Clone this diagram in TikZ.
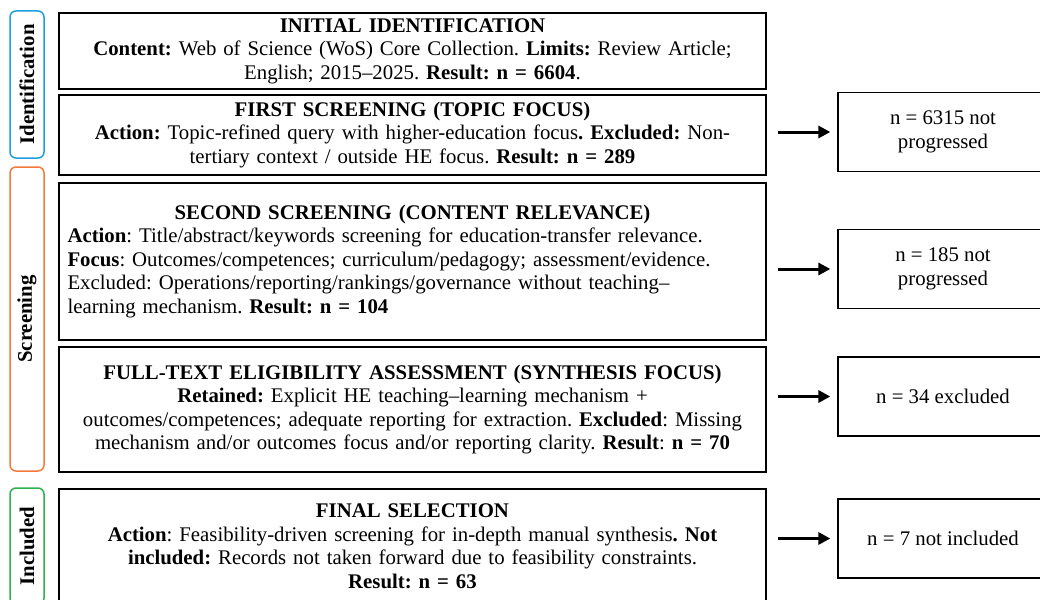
\documentclass[tikz,border=0pt]{standalone}
\usepackage{fontspec}
\setmainfont{Liberation Serif}
\usepackage{xcolor}
\usepackage{tikz}
\usetikzlibrary{arrows.meta,calc}
\definecolor{phaseblue}{RGB}{30,158,222}
\definecolor{phaseorange}{RGB}{245,121,58}
\definecolor{phasegreen}{RGB}{44,178,76}
\newcommand{\prismafont}{\fontsize{20.8}{23.5}\selectfont\frenchspacing}
\tikzset{
  prismabox/.style={draw, line width=1.6pt, text width=690pt, minimum width=707pt, inner xsep=8.5pt, align=center, font=\prismafont},
  prismanote/.style={draw, line width=1.3pt, minimum width=210pt, minimum height=79pt, align=center, font=\prismafont},
  prismatab/.style={draw, line width=1.5pt, rounded corners=6pt, rotate=90, minimum height=34pt, inner sep=0pt, font=\prismafont\bfseries},
  prismaarrow/.style={-{Triangle[length=12pt, width=12pt]}, line width=3pt}
}

\begin{document}
\begin{tikzpicture}[x=1pt, y=-1pt]
\useasboundingbox (0,0) rectangle (1040,599);
\clip (0,0) rectangle (1040,599);

% phase tabs
\node[prismatab, draw=phaseblue, minimum width=147pt] (tabident) at (27,84.5) {Identification};
\node[prismatab, draw=phaseorange, minimum width=304pt] (tabscreen) at (27,319) {Screening};
\node[prismatab, draw=phasegreen, minimum width=116pt] (tabincl) at (27,546) {Included};

% main flow
\node[prismabox, minimum height=76pt] (ident) at (412.5,51)
{\textbf{INITIAL IDENTIFICATION}\\
\textbf{Content:} Web of Science (WoS) Core Collection. \textbf{Limits:} Review Article;\\
English; 2015--2025. \textbf{Result: n = 6604}.};
\node[prismabox, minimum height=80pt] (screenA) at (412.5,135)
{\textbf{FIRST SCREENING (TOPIC FOCUS)}\\
\textbf{Action:} Topic-refined query with higher-education focus\textbf{. Excluded:} Non-\\
tertiary context / outside HE focus. \textbf{Result: n = 289}};
\node[prismabox, minimum height=157pt, align=left] (screenB) at (412.5,261.5)
{\centerline{\textbf{SECOND SCREENING (CONTENT RELEVANCE)}}
\noindent\textbf{Action}: Title/abstract/keywords screening for education-transfer relevance.\\
\textbf{Focus}: Outcomes/competences; curriculum/pedagogy; assessment/evidence.\\
Excluded: Operations/reporting/rankings/governance without teaching--\\
learning mechanism. \textbf{Result: n = 104}};
\node[prismabox, minimum height=125pt] (fulltext) at (412.5,409.5)
{\textbf{FULL-TEXT ELIGIBILITY ASSESSMENT (SYNTHESIS FOCUS)}\\
\textbf{Retained:} Explicit HE teaching--learning mechanism +\\
outcomes/competences; adequate reporting for extraction. \textbf{Excluded}: Missing\\
mechanism and/or outcomes focus and/or reporting clarity. \textbf{Result}: \textbf{n = 70}};
\node[prismabox, minimum height=115pt] (final) at (412.5,546.5)
{\textbf{FINAL SELECTION}\\
\textbf{Action}: Feasibility-driven screening for in-depth manual synthesis\textbf{. Not}\\
\textbf{included:} Records not taken forward due to feasibility constraints.\\
\textbf{Result: n = 63}};

% removed records
\node[prismanote] (outA) at (943,132) {n = 6315 not\\progressed};
\node[prismanote] (outB) at (943,269) {n = 185 not\\progressed};
\node[prismanote] (outC) at (943,396.5) {n = 34 excluded};
\node[prismanote] (outD) at (943,538.5) {n = 7 not included};

\draw[prismaarrow] ($(screenA.east |- outA.west)+(11,0)$) -- ($(outA.west)+(-7,0)$);
\draw[prismaarrow] ($(screenB.east |- outB.west)+(11,0)$) -- ($(outB.west)+(-7,0)$);
\draw[prismaarrow] ($(fulltext.east |- outC.west)+(11,0)$) -- ($(outC.west)+(-7,0)$);
\draw[prismaarrow] ($(final.east |- outD.west)+(11,0)$) -- ($(outD.west)+(-7,0)$);
\end{tikzpicture}
\end{document}
